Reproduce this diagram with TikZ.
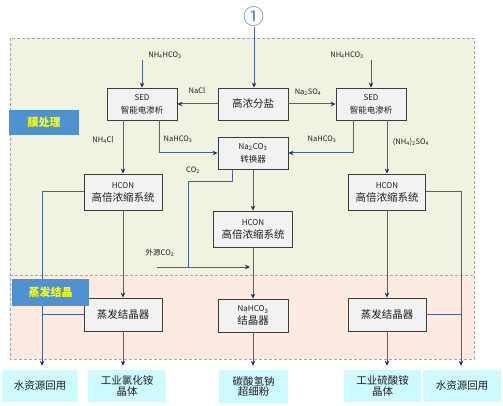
\documentclass[tikz,border=0pt]{standalone}
\usepackage{fontspec}
\setmainfont{Noto Sans CJK SC}
\usetikzlibrary{arrows.meta,calc}
\definecolor{bggreen}{RGB}{240,243,224}
\definecolor{bgpink}{RGB}{253,235,225}
\definecolor{boxfill}{RGB}{242,242,242}
\definecolor{boxline}{RGB}{60,60,60}
\definecolor{prodfill}{RGB}{204,250,255}
\definecolor{flowline}{RGB}{70,100,140}
\definecolor{tipcol}{RGB}{25,45,100}
\definecolor{labblue}{RGB}{79,146,210}
\definecolor{circblue}{RGB}{90,135,180}
\definecolor{txt}{RGB}{30,30,30}
\newcommand{\fsz}[1]{\fontsize{#1}{#1}\selectfont}
\tikzset{
  procbox/.style={draw=boxline,fill=boxfill,line width=0.8pt,inner sep=0pt,align=center,text=txt},
  prodbox/.style={fill=prodfill,inner sep=0pt,align=center,text=txt,font=\fsz{10.5}},
  flow/.style={draw=flowline,line width=1pt},
  flowarr/.style={flow,-{Stealth[color=tipcol,length=5pt,width=4.5pt]}},
  smalllab/.style={inner sep=0pt,text=txt,font=\fsz{7.5}},
  seclab/.style={fill=labblue,text={rgb,255:red,255;green,255;blue,0},inner sep=0pt,font=\fsz{11}\bfseries},
}
\begin{document}
\begin{tikzpicture}[x=1pt,y=-1pt]
\useasboundingbox (0,0) rectangle (503,406);
\fill[white] (0,0) rectangle (503,406);
% background regions
\fill[bggreen] (10,38) rectangle (474,275);
\fill[bgpink] (10,275) rectangle (474,359);
\draw[gray!70,densely dashed,line width=0.6pt] (10,38) rectangle (474,359);
\draw[gray!70,densely dashed,line width=0.6pt] (10,275) -- (474,275);

% source
\node[text=circblue,inner sep=0pt,font=\fsz{21}] (src) at (254,17) {①};

% process boxes
\node[procbox,minimum width=70pt,minimum height=32pt,font=\fsz{10.5}] (gf) at (253,104) {高浓分盐};
\node[procbox,minimum width=70pt,minimum height=32pt] (sedL) at (142,104) {{\fsz{8}SED}\\[1pt]{\fsz{8.5}智能电渗析}};
\node[procbox,minimum width=70pt,minimum height=32pt] (sedR) at (371,104) {{\fsz{8}SED}\\[1pt]{\fsz{8.5}智能电渗析}};
\node[procbox,minimum width=70pt,minimum height=32pt] (cvt) at (253,153) {{\fsz{8}Na\textsubscript{2}CO\textsubscript{3}}\\[1pt]{\fsz{8.5}转换器}};
\node[procbox,minimum width=78pt,minimum height=36pt] (hconL) at (123,192) {{\fsz{8}HCON}\\[1pt]{\fsz{10.5}高倍浓缩系统}};
\node[procbox,minimum width=77pt,minimum height=36pt] (hconR) at (387,192) {{\fsz{8}HCON}\\[1pt]{\fsz{10.5}高倍浓缩系统}};
\node[procbox,minimum width=79pt,minimum height=36pt] (hconM) at (253,229) {{\fsz{8}HCON}\\[1pt]{\fsz{10.5}高倍浓缩系统}};
\node[procbox,minimum width=70pt,minimum height=33pt] (xtalM) at (253,315.5) {{\fsz{8}NaHCO\textsubscript{3}}\\[1pt]{\fsz{10.5}结晶器}};
\node[procbox,minimum width=78pt,minimum height=33pt,font=\fsz{10.5}] (evL) at (123,314.5) {蒸发结晶器};
\node[procbox,minimum width=78pt,minimum height=33pt,font=\fsz{10.5}] (evR) at (387,314.5) {蒸发结晶器};

% product boxes
\node[prodbox,minimum width=76pt,minimum height=32pt] (wL) at (40,386) {水资源回用};
\node[prodbox,minimum width=78pt,minimum height=32pt] (pCl) at (127,386) {工业氯化铵\\晶体};
\node[prodbox,minimum width=69pt,minimum height=33pt] (pHC) at (253.5,386.5) {碳酸氢钠\\超细粉};
\node[prodbox,minimum width=77pt,minimum height=32pt] (pSO) at (382.5,386) {工业硫酸铵\\晶体};
\node[prodbox,minimum width=78pt,minimum height=32pt] (wR) at (462,386) {水资源回用};

% helper coordinates
\coordinate (nhL) at (142,60);
\coordinate (nhR) at (371,60);
\coordinate (co2a) at (188,182);
\coordinate (jn) at (188,267);
\coordinate (ext) at (157,267);
\coordinate (extend) at (250,267);
\coordinate (wl) at (42,192);
\coordinate (wr) at (461,192);

% connectors
\draw[flowarr] (src.south) -- (src.south |- gf.north);
\draw[flowarr] (nhL) -- (sedL.north);
\draw[flowarr] (nhR) -- (sedR.north);
\draw[flowarr] (gf.west) -- (sedL.east);
\draw[flowarr] (gf.east) -- (sedR.west);
\draw[flowarr] ([xshift=17pt]sedL.south) |- (cvt.west);
\draw[flowarr] ([xshift=-18pt]sedR.south) |- (cvt.east);
\draw[flowarr] (sedL.south -| hconL) -- (hconL.north);
\draw[flowarr] (sedR.south -| hconR) -- (hconR.north);
\draw[flowarr] (cvt.south) -- (cvt.south |- hconM.north);
\draw[flow] ([xshift=-21pt]cvt.south) |- (co2a) -- (jn);
\draw[flowarr] (ext) -- (extend);
\draw[flowarr] (hconM.south) -- (hconM.south |- xtalM.north);
\draw[flowarr,shorten >=4pt] (xtalM.south) -- (xtalM.south |- pHC.north);
\draw[flowarr] (hconL.south) -- (evL.north);
\draw[flowarr,shorten >=4pt] (evL.south) -- (evL.south |- pCl.north);
\draw[flowarr] (hconR.south) -- (evR.north);
\draw[flowarr,shorten >=4pt] (evR.south) -- (evR.south |- pSO.north);
\draw[flowarr,shorten >=4pt] (hconL.west) -- (wl) -- (wl |- wL.north);
\draw[flow] (evL.west) -- (evL.west -| wl);
\draw[flowarr,shorten >=4pt] (hconR.east) -- (wr) -- (wr |- wR.north);
\draw[flow] (evR.east) -- (evR.east -| wr);

% small labels
\node[smalllab] (lnhL) at (165,55) {NH\textsubscript{4}HCO\textsubscript{3}};
\node[smalllab] (lnhR) at (347,55) {NH\textsubscript{4}HCO\textsubscript{3}};
\node[smalllab] (lnacl) at (197,91) {NaCl};
\node[smalllab] (lna2so4) at (308,92) {Na\textsubscript{2}SO\textsubscript{4}};
\node[smalllab] (lhcL) at (178,139) {NaHCO\textsubscript{3}};
\node[smalllab] (lhcR) at (322,139) {NaHCO\textsubscript{3}};
\node[smalllab] (lnh4cl) at (103,140) {NH\textsubscript{4}Cl};
\node[smalllab] (lso4) at (411,142) {(NH\textsubscript{4})\textsubscript{2}SO\textsubscript{4}};
\node[smalllab] (lco2) at (193,170) {CO\textsubscript{2}};
\node[smalllab] (lext) at (160,253) {外源CO\textsubscript{2}};

% section labels
\node[seclab,minimum width=70pt,minimum height=25pt] (secA) at (44,122.5) {膜处理};
\node[seclab,minimum width=77pt,minimum height=27pt] (secB) at (50.5,292.5) {蒸发结晶};
\end{tikzpicture}
\end{document}
